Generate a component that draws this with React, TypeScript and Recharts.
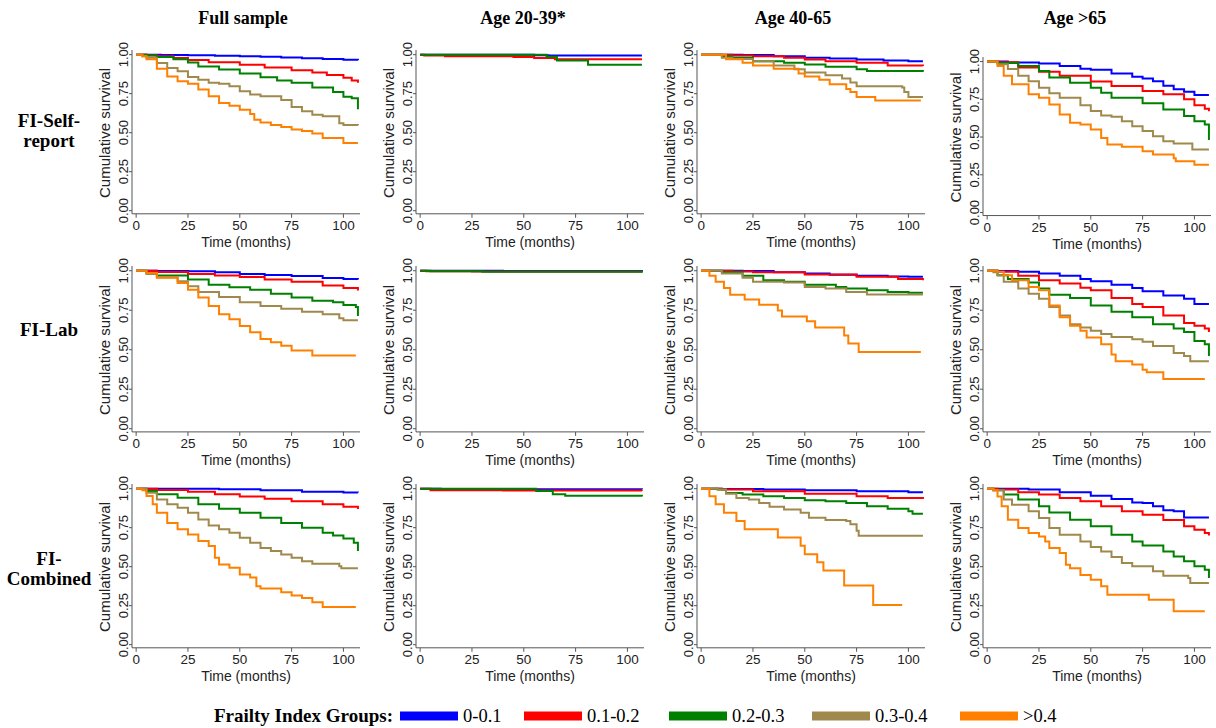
import { LineChart, Line, XAxis, YAxis } from "recharts";

type Pt = [number, number];

const groups = ["0-0.1", "0.1-0.2", "0.2-0.3", "0.3-0.4", ">0.4"];
const colors = ["#0000ff", "#ff0000", "#008000", "#a0894c", "#ff8000"];
const columns = ["Full sample", "Age 20-39*", "Age 40-65", "Age >65"];
const rowLabels = [["FI-Self-", "report"], ["FI-Lab"], ["FI-", "Combined"]];
const timeTicks = [0, 25, 50, 75, 100];
const survTicks = [0, 0.25, 0.5, 0.75, 1];

// FI-Self-report, full sample
const srAllG1: Pt[] = [[0, 1], [12, 0.998], [25, 0.996], [38, 0.993], [50, 0.99], [60, 0.986], [70, 0.982], [80, 0.977], [90, 0.972], [100, 0.967], [107, 0.964]];
const srAllG2: Pt[] = [[0, 1], [5, 0.996], [10, 0.99], [18, 0.978], [25, 0.966], [35, 0.952], [50, 0.936], [62, 0.918], [75, 0.9], [85, 0.885], [92, 0.87], [100, 0.852], [104, 0.835], [107, 0.82]];
const srAllG3: Pt[] = [[0, 1], [5, 0.995], [10, 0.985], [18, 0.97], [25, 0.95], [30, 0.925], [40, 0.905], [50, 0.88], [60, 0.855], [68, 0.835], [75, 0.82], [85, 0.79], [95, 0.76], [100, 0.73], [104, 0.72], [107, 0.65]];
const srAllG4: Pt[] = [[0, 1], [3, 0.99], [5, 0.98], [10, 0.947], [15, 0.915], [20, 0.893], [25, 0.857], [30, 0.84], [35, 0.82], [40, 0.814], [45, 0.797], [50, 0.765], [55, 0.744], [60, 0.733], [70, 0.71], [75, 0.665], [80, 0.637], [85, 0.615], [90, 0.605], [98, 0.56], [100, 0.55], [107, 0.547]];
const srAllG5: Pt[] = [[0, 1], [3, 0.99], [5, 0.97], [10, 0.91], [15, 0.86], [20, 0.83], [25, 0.814], [30, 0.776], [35, 0.733], [40, 0.69], [45, 0.673], [50, 0.647], [55, 0.62], [57, 0.583], [60, 0.566], [65, 0.55], [70, 0.536], [75, 0.52], [80, 0.51], [85, 0.494], [90, 0.466], [100, 0.434], [107, 0.434]];

// FI-Self-report, age 20-39
const srYoungG1: Pt[] = [[0, 1], [55, 0.997], [62, 0.995], [107, 0.995]];
const srYoungG2: Pt[] = [[0, 1], [2, 0.994], [12, 0.99], [45, 0.985], [55, 0.978], [65, 0.97], [107, 0.97]];
const srYoungG3: Pt[] = [[0, 1], [61, 0.987], [66, 0.963], [81, 0.936], [107, 0.936]];

// FI-Self-report, age 40-65
const srMidG1: Pt[] = [[0, 1], [20, 0.998], [35, 0.99], [50, 0.98], [62, 0.975], [75, 0.969], [88, 0.963], [100, 0.958], [107, 0.958]];
const srMidG2: Pt[] = [[0, 1], [15, 0.995], [25, 0.99], [40, 0.98], [50, 0.969], [60, 0.958], [75, 0.948], [90, 0.93], [107, 0.927]];
const srMidG3: Pt[] = [[0, 1], [10, 0.99], [15, 0.98], [25, 0.958], [40, 0.948], [50, 0.937], [60, 0.923], [75, 0.906], [80, 0.895], [107, 0.89]];
const srMidG4: Pt[] = [[0, 1], [10, 0.98], [15, 0.973], [25, 0.958], [35, 0.93], [45, 0.906], [50, 0.885], [60, 0.868], [68, 0.847], [72, 0.822], [75, 0.797], [97, 0.79], [98, 0.76], [100, 0.728], [107, 0.728]];
const srMidG5: Pt[] = [[0, 1], [12, 0.97], [20, 0.948], [25, 0.93], [35, 0.91], [47, 0.88], [50, 0.86], [57, 0.84], [62, 0.81], [70, 0.78], [72, 0.76], [75, 0.728], [84, 0.707], [106, 0.707]];

// FI-Self-report, age >65
const srOldG1: Pt[] = [[0, 1], [10, 0.993], [25, 0.987], [35, 0.97], [45, 0.953], [50, 0.945], [60, 0.92], [70, 0.9], [75, 0.887], [80, 0.87], [85, 0.84], [90, 0.816], [95, 0.8], [100, 0.778], [107, 0.778]];
const srOldG2: Pt[] = [[0, 1], [5, 0.995], [15, 0.96], [25, 0.933], [35, 0.905], [50, 0.867], [60, 0.838], [75, 0.805], [85, 0.783], [95, 0.75], [100, 0.71], [105, 0.687], [107, 0.67]];
const srOldG3: Pt[] = [[0, 1], [5, 0.99], [15, 0.97], [25, 0.938], [30, 0.894], [40, 0.86], [50, 0.827], [55, 0.794], [60, 0.76], [75, 0.723], [85, 0.683], [95, 0.64], [100, 0.605], [105, 0.583], [107, 0.48]];
const srOldG4: Pt[] = [[0, 1], [5, 0.982], [10, 0.95], [15, 0.905], [20, 0.87], [25, 0.827], [30, 0.79], [35, 0.76], [45, 0.71], [50, 0.672], [55, 0.643], [60, 0.634], [65, 0.605], [70, 0.572], [75, 0.54], [80, 0.505], [85, 0.472], [90, 0.457], [99, 0.417], [107, 0.417]];
const srOldG5: Pt[] = [[0, 1], [5, 0.97], [8, 0.905], [12, 0.85], [20, 0.783], [25, 0.76], [30, 0.716], [35, 0.65], [40, 0.594], [45, 0.583], [50, 0.55], [55, 0.494], [58, 0.45], [65, 0.435], [75, 0.406], [80, 0.384], [90, 0.36], [91, 0.34], [100, 0.317], [107, 0.317]];

// FI-Lab, full sample
const labAllG1: Pt[] = [[0, 1], [10, 0.999], [25, 0.996], [38, 0.99], [50, 0.98], [62, 0.973], [75, 0.967], [90, 0.954], [100, 0.948], [107, 0.944]];
const labAllG2: Pt[] = [[0, 1], [10, 0.992], [25, 0.98], [38, 0.97], [50, 0.96], [62, 0.945], [75, 0.93], [90, 0.906], [100, 0.89], [107, 0.875]];
const labAllG3: Pt[] = [[0, 1], [5, 0.985], [10, 0.97], [25, 0.944], [35, 0.912], [45, 0.895], [55, 0.88], [65, 0.854], [75, 0.83], [85, 0.81], [95, 0.8], [100, 0.783], [106, 0.77], [107, 0.714]];
const labAllG4: Pt[] = [[0, 1], [5, 0.98], [10, 0.958], [20, 0.933], [25, 0.902], [30, 0.866], [40, 0.833], [50, 0.8], [60, 0.777], [70, 0.76], [80, 0.74], [90, 0.724], [98, 0.7], [100, 0.687], [107, 0.687]];
const labAllG5: Pt[] = [[0, 1], [5, 0.985], [10, 0.955], [20, 0.923], [25, 0.88], [30, 0.83], [35, 0.777], [40, 0.724], [45, 0.693], [50, 0.65], [55, 0.61], [60, 0.568], [65, 0.547], [70, 0.526], [75, 0.495], [85, 0.463], [106, 0.463]];

// FI-Lab, age 20-39
const labYoungG1: Pt[] = [[0, 1], [40, 0.998], [107, 0.997]];
const labYoungG2: Pt[] = [[0, 1], [3, 0.997], [25, 0.995], [107, 0.995]];
const labYoungG3: Pt[] = [[0, 1], [5, 0.996], [30, 0.993], [107, 0.988]];

// FI-Lab, age 40-65
const labMidG1: Pt[] = [[0, 1], [20, 0.998], [35, 0.99], [50, 0.983], [62, 0.975], [75, 0.968], [90, 0.964], [100, 0.962], [107, 0.962]];
const labMidG2: Pt[] = [[0, 1], [15, 0.995], [25, 0.99], [50, 0.976], [75, 0.962], [95, 0.947], [107, 0.94]];
const labMidG3: Pt[] = [[0, 1], [10, 0.99], [20, 0.968], [30, 0.94], [40, 0.93], [50, 0.912], [65, 0.897], [70, 0.887], [80, 0.876], [90, 0.865], [100, 0.86], [107, 0.86]];
const labMidG4: Pt[] = [[0, 1], [10, 0.983], [20, 0.955], [25, 0.93], [40, 0.925], [50, 0.897], [60, 0.887], [70, 0.865], [80, 0.85], [107, 0.85]];
const labMidG5: Pt[] = [[0, 1], [4, 0.968], [7, 0.93], [11, 0.89], [14, 0.848], [21, 0.818], [28, 0.784], [37, 0.748], [39, 0.71], [51, 0.68], [55, 0.64], [69, 0.59], [71, 0.54], [76, 0.485], [106, 0.485]];

// FI-Lab, age >65
const labOldG1: Pt[] = [[0, 1], [5, 0.999], [15, 0.994], [25, 0.983], [35, 0.968], [45, 0.947], [50, 0.934], [60, 0.912], [70, 0.89], [75, 0.87], [85, 0.844], [95, 0.823], [100, 0.79], [107, 0.79]];
const labOldG2: Pt[] = [[0, 1], [5, 0.994], [15, 0.968], [25, 0.94], [35, 0.919], [45, 0.893], [50, 0.876], [60, 0.827], [70, 0.79], [75, 0.77], [85, 0.716], [95, 0.67], [100, 0.652], [105, 0.635], [107, 0.613]];
const labOldG3: Pt[] = [[0, 1], [5, 0.972], [10, 0.947], [20, 0.925], [25, 0.887], [30, 0.848], [40, 0.827], [50, 0.78], [60, 0.741], [70, 0.705], [80, 0.662], [90, 0.635], [95, 0.613], [100, 0.556], [105, 0.534], [107, 0.46]];
const labOldG4: Pt[] = [[0, 1], [3, 0.99], [5, 0.972], [8, 0.93], [15, 0.887], [20, 0.855], [25, 0.823], [30, 0.77], [35, 0.716], [40, 0.662], [45, 0.64], [50, 0.62], [55, 0.6], [60, 0.58], [70, 0.566], [75, 0.55], [80, 0.523], [90, 0.48], [95, 0.46], [98, 0.427], [107, 0.427]];
const labOldG5: Pt[] = [[0, 1], [5, 0.994], [8, 0.972], [12, 0.94], [20, 0.897], [25, 0.876], [30, 0.78], [35, 0.705], [40, 0.652], [45, 0.62], [48, 0.577], [55, 0.534], [60, 0.47], [62, 0.427], [70, 0.406], [75, 0.374], [77, 0.357], [85, 0.314], [105, 0.314]];

// FI-Combined, full sample
const comAllG1: Pt[] = [[0, 1], [10, 1], [40, 0.996], [60, 0.99], [80, 0.98], [100, 0.976], [107, 0.975]];
const comAllG2: Pt[] = [[0, 1], [10, 0.992], [25, 0.98], [38, 0.965], [50, 0.95], [62, 0.935], [75, 0.92], [90, 0.9], [100, 0.884], [107, 0.87]];
const comAllG3: Pt[] = [[0, 1], [5, 0.985], [10, 0.964], [20, 0.942], [30, 0.9], [40, 0.872], [50, 0.846], [60, 0.814], [70, 0.78], [80, 0.75], [90, 0.717], [95, 0.7], [100, 0.68], [105, 0.653], [107, 0.6]];
const comAllG4: Pt[] = [[0, 1], [5, 0.974], [10, 0.93], [15, 0.9], [20, 0.878], [25, 0.846], [30, 0.803], [35, 0.764], [40, 0.74], [45, 0.717], [50, 0.685], [55, 0.653], [60, 0.62], [65, 0.6], [70, 0.578], [75, 0.557], [80, 0.535], [85, 0.518], [98, 0.503], [99, 0.49], [107, 0.49]];
const comAllG5: Pt[] = [[0, 1], [3, 0.99], [5, 0.953], [8, 0.9], [10, 0.846], [15, 0.78], [20, 0.74], [25, 0.707], [30, 0.664], [35, 0.632], [38, 0.557], [40, 0.514], [45, 0.493], [50, 0.45], [55, 0.43], [58, 0.375], [60, 0.36], [70, 0.336], [75, 0.315], [80, 0.3], [85, 0.272], [90, 0.242], [106, 0.242]];

// FI-Combined, age 20-39
const comYoungG1: Pt[] = [[0, 1], [10, 0.997], [107, 0.996]];
const comYoungG2: Pt[] = [[0, 1], [5, 0.99], [40, 0.988], [107, 0.986]];
const comYoungG3: Pt[] = [[0, 1], [56, 0.985], [64, 0.965], [70, 0.955], [107, 0.95]];

// FI-Combined, age 40-65
const comMidG1: Pt[] = [[0, 1], [10, 0.998], [30, 0.995], [50, 0.99], [75, 0.983], [100, 0.977], [107, 0.977]];
const comMidG2: Pt[] = [[0, 1], [10, 0.994], [25, 0.983], [50, 0.968], [75, 0.951], [90, 0.941], [107, 0.934]];
const comMidG3: Pt[] = [[0, 1], [8, 0.994], [12, 0.972], [20, 0.962], [30, 0.951], [40, 0.941], [50, 0.926], [60, 0.92], [70, 0.909], [80, 0.888], [90, 0.871], [100, 0.856], [102, 0.84], [107, 0.84]];
const comMidG4: Pt[] = [[0, 1], [8, 0.994], [12, 0.968], [17, 0.941], [23, 0.93], [28, 0.909], [33, 0.884], [40, 0.867], [48, 0.846], [52, 0.814], [60, 0.8], [70, 0.793], [72, 0.772], [75, 0.73], [76, 0.698], [107, 0.698]];
const comMidG5: Pt[] = [[0, 1], [4, 0.951], [7, 0.9], [11, 0.846], [17, 0.793], [21, 0.74], [37, 0.687], [48, 0.634], [50, 0.58], [56, 0.528], [59, 0.475], [69, 0.38], [83, 0.254], [97, 0.254]];

// FI-Combined, age >65
const comOldG1: Pt[] = [[0, 1], [5, 1], [20, 0.994], [35, 0.977], [50, 0.955], [60, 0.934], [70, 0.912], [75, 0.908], [80, 0.887], [85, 0.861], [90, 0.855], [95, 0.816], [107, 0.816]];
const comOldG2: Pt[] = [[0, 1], [5, 0.994], [15, 0.977], [25, 0.962], [35, 0.94], [45, 0.919], [55, 0.887], [65, 0.855], [75, 0.833], [85, 0.8], [95, 0.759], [100, 0.737], [105, 0.716], [107, 0.7]];
const comOldG3: Pt[] = [[0, 1], [3, 0.99], [8, 0.962], [15, 0.93], [25, 0.887], [30, 0.848], [40, 0.801], [50, 0.759], [60, 0.705], [70, 0.662], [75, 0.635], [85, 0.598], [90, 0.566], [95, 0.534], [100, 0.502], [105, 0.48], [107, 0.427]];
const comOldG4: Pt[] = [[0, 1], [3, 0.99], [8, 0.93], [12, 0.897], [20, 0.855], [25, 0.812], [30, 0.748], [35, 0.705], [45, 0.662], [50, 0.626], [55, 0.598], [60, 0.562], [65, 0.523], [70, 0.502], [80, 0.47], [85, 0.442], [97, 0.427], [98, 0.395], [107, 0.395]];
const comOldG5: Pt[] = [[0, 1], [3, 0.99], [5, 0.95], [7, 0.887], [10, 0.801], [15, 0.748], [20, 0.716], [25, 0.694], [28, 0.662], [30, 0.62], [35, 0.588], [38, 0.513], [40, 0.49], [45, 0.447], [50, 0.417], [55, 0.374], [58, 0.32], [75, 0.32], [78, 0.288], [90, 0.214], [105, 0.214]];

const panels: Pt[][][][] = [
  [
    [srAllG1, srAllG2, srAllG3, srAllG4, srAllG5],
    [srYoungG1, srYoungG2, srYoungG3],
    [srMidG1, srMidG2, srMidG3, srMidG4, srMidG5],
    [srOldG1, srOldG2, srOldG3, srOldG4, srOldG5],
  ],
  [
    [labAllG1, labAllG2, labAllG3, labAllG4, labAllG5],
    [labYoungG1, labYoungG2, labYoungG3],
    [labMidG1, labMidG2, labMidG3, labMidG4, labMidG5],
    [labOldG1, labOldG2, labOldG3, labOldG4, labOldG5],
  ],
  [
    [comAllG1, comAllG2, comAllG3, comAllG4, comAllG5],
    [comYoungG1, comYoungG2, comYoungG3],
    [comMidG1, comMidG2, comMidG3, comMidG4, comMidG5],
    [comOldG1, comOldG2, comOldG3, comOldG4, comOldG5],
  ],
];

// page layout (pixels)
const axisX = [132, 416, 697, 983];
const titleX = [243, 523, 793, 1075];
const rowY = [
  [55, 211],
  [271, 429],
  [489, 645],
];
const YAXIS_W = 44;
const PLOT_W = 228;
const XAXIS_H = 38;
const TOP_PAD = 16;
const sans = "'Liberation Sans', Arial, sans-serif";
const serif = "'Liberation Serif', 'Times New Roman', serif";

const YTick = (props: any) => {
  const { x, y, payload } = props;
  return (
    <text x={x} y={y} transform={`rotate(-90 ${x} ${y})`} textAnchor="middle" fontSize={13} fill="#222">
      {Number(payload.value).toFixed(2)}
    </text>
  );
};

function getGeom(r: number, c: number) {
  let [y1, y0] = rowY[r];
  if (r === 0 && c === 3) {
    y1 = 62;
    y0 = 213;
  }
  const u = y0 - y1;
  return { y1, y0, top: y1 - 0.03 * u, plotH: 1.05 * u };
}

function Panel({ r, c }: { r: number; c: number }) {
  const g = getGeom(r, c);
  const series = panels[r][c];
  return (
    <div style={{ position: "absolute", left: axisX[c] - YAXIS_W, top: g.top - TOP_PAD }}>
      <LineChart
        width={YAXIS_W + PLOT_W + 2}
        height={g.plotH + XAXIS_H + TOP_PAD}
        margin={{ top: TOP_PAD, right: 2, bottom: 0, left: 0 }}
      >
        <XAxis
          type="number"
          dataKey="t"
          domain={[-2, 108]}
          ticks={timeTicks}
          allowDataOverflow
          height={XAXIS_H}
          tickSize={4}
          tickMargin={3}
          stroke="#555"
          tick={{ fontSize: 13.5, fill: "#222" }}
          label={{ value: "Time (months)", position: "insideBottom", offset: 5, fontSize: 14, fill: "#222" }}
        />
        <YAxis
          type="number"
          dataKey="s"
          domain={[-0.02, 1.03]}
          ticks={survTicks}
          allowDataOverflow
          width={YAXIS_W}
          tickSize={3}
          tickMargin={1}
          stroke="#555"
          tick={<YTick />}
        />
        {series.map((pts, i) => (
          <Line
            key={i}
            data={pts.map(([t, s]) => ({ t, s }))}
            dataKey="s"
            type="stepAfter"
            stroke={colors[i]}
            strokeWidth={2}
            dot={false}
            activeDot={false}
            isAnimationActive={false}
          />
        ))}
      </LineChart>
    </div>
  );
}

const legendX = [400, 524, 669, 812, 960];

export default function App() {
  return (
    <div style={{ position: "absolute", left: 0, top: 0, width: 1216, height: 728, background: "#fff", fontFamily: sans }}>
      {panels.map((row, r) => row.map((_, c) => <Panel key={`${r}-${c}`} r={r} c={c} />))}
      <svg width={1216} height={728} style={{ position: "absolute", left: 0, top: 0, pointerEvents: "none" }}>
        {columns.map((t, c) => (
          <text key={t} x={titleX[c]} y={24} textAnchor="middle" fontFamily={serif} fontWeight="bold" fontSize={18} fill="#000">
            {t}
          </text>
        ))}
        {rowLabels.map((lines, r) => {
          const mid = r === 0 ? 131 : r === 1 ? 330 : 569;
          return (
            <text key={r} textAnchor="middle" fontFamily={serif} fontWeight="bold" fontSize={19} fill="#000">
              {lines.map((ln, k) => (
                <tspan key={k} x={49} y={mid + 6 + (k - (lines.length - 1) / 2) * 20}>
                  {ln}
                </tspan>
              ))}
            </text>
          );
        })}
        {panels.map((row, r) =>
          row.map((_, c) => {
            const g = getGeom(r, c);
            const x = axisX[c] - 28;
            const y = (g.y1 + g.y0) / 2;
            return (
              <text key={`yl-${r}-${c}`} x={x} y={y} transform={`rotate(-90 ${x} ${y})`} textAnchor="middle" dominantBaseline="central" fontSize={15} fill="#222" fontFamily={sans}>
                Cumulative survival
              </text>
            );
          })
        )}
        <text x={393} y={722} textAnchor="end" fontFamily={serif} fontWeight="bold" fontSize={19} fill="#000">
          Frailty Index Groups:
        </text>
        {groups.map((gname, i) => (
          <g key={gname}>
            <rect x={legendX[i]} y={711.5} width={58} height={9} fill={colors[i]} />
            <text x={legendX[i] + 63} y={722} fontFamily={serif} fontSize={18.5} fill="#000">
              {gname}
            </text>
          </g>
        ))}
      </svg>
    </div>
  );
}
